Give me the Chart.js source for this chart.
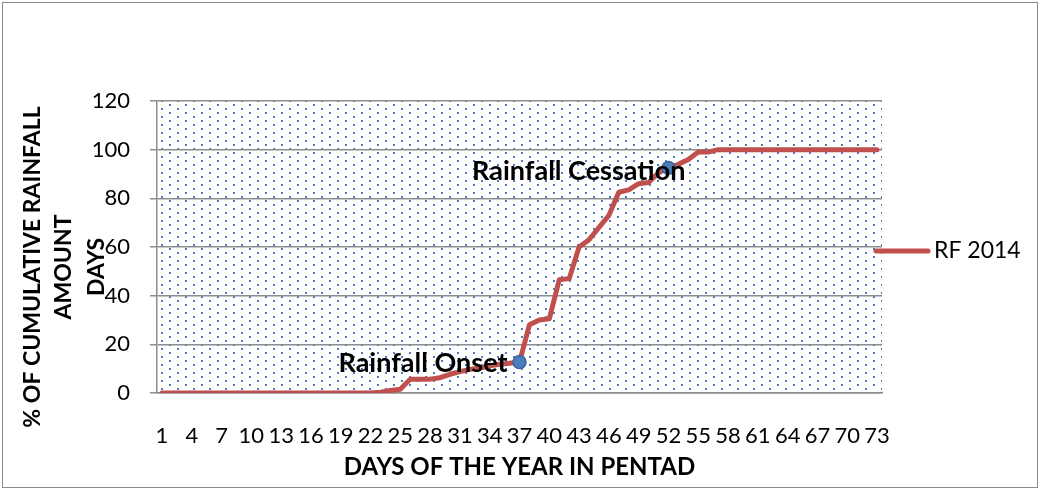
<!DOCTYPE html>
<html>
<head>
<meta charset="utf-8">
<title>RF 2014 cumulative rainfall</title>
<script src="https://cdn.jsdelivr.net/npm/chart.js@4.4.1/dist/chart.umd.min.js"></script>
<style>
  html, body { margin: 0; padding: 0; background: #fff; }
  #wrap { width: 1040px; height: 490px; }
</style>
</head>
<body>
<div id="wrap"><canvas id="rfChart" width="1040" height="490"></canvas></div>
<script>
// Pentads of the year (categories)
const pentads = [
  '1','2','3','4','5','6','7','8','9','10','11','12','13','14','15','16','17','18','19','20',
  '21','22','23','24','25','26','27','28','29','30','31','32','33','34','35','36','37','38','39','40',
  '41','42','43','44','45','46','47','48','49','50','51','52','53','54','55','56','57','58','59','60',
  '61','62','63','64','65','66','67','68','69','70','71','72','73'
];

// % of cumulative rainfall amount, 2014
const rf2014 = [
  0, 0, 0, 0, 0, 0, 0, 0, 0, 0, 0, 0, 0, 0, 0, 0, 0, 0, 0, 0,
  0, 0, 0.3, 1, 1.5, 5.7, 5.7, 5.7, 6.3, 7.7, 8.8, 9.7, 10.3, 11.2, 11.8, 12.2, 12.7, 28, 30, 30.5,
  46.5, 47, 60, 63, 68, 73, 82.5, 83.5, 86, 86.5, 90.5, 92.5, 94, 96, 99, 99, 100, 100, 100, 100,
  100, 100, 100, 100, 100, 100, 100, 100, 100, 100, 100, 100, 100
];

// x labels that are printed (every third pentad)
const tickLabels = ['1','4','7','10','13','16','19','22','25','28','31','34','37','40','43','46','49','52','55','58','61','64','67','70','73'];

// marked events
const eventPentads = ['37', '52'];
const eventLabels = ['Rainfall Onset', 'Rainfall Cessation'];

const seriesName = 'RF 2014';
const yTitleLines = ['% OF CUMULATIVE RAINFALL', 'AMOUNT', 'DAYS'];
const xTitle = 'DAYS OF THE YEAR IN PENTAD';

const fontFamily = "Lato, 'Open Sans', sans-serif";
Chart.defaults.font.family = fontFamily;
Chart.defaults.color = '#000';

const lineColor = '#c0504d';
const gridColor = '#8c8c8c';

// dotted plot-area fill + outer frame
const plotBackground = {
  id: 'plotBackground',
  beforeDraw(chart) {
    const { ctx, chartArea: a } = chart;
    const tile = document.createElement('canvas');
    tile.width = 16;
    tile.height = 8;
    const t = tile.getContext('2d');
    t.fillStyle = '#4a7ebb';
    t.fillRect(9, 0, 2, 2);
    t.fillRect(1, 4, 2, 2);

    ctx.save();
    ctx.fillStyle = '#fff';
    ctx.fillRect(0, 0, chart.width, chart.height);
    ctx.fillStyle = ctx.createPattern(tile, 'repeat');
    ctx.fillRect(a.left, a.top, a.right - a.left, a.bottom - a.top);
    ctx.strokeStyle = '#8a8a8a';
    ctx.lineWidth = 1;
    ctx.strokeRect(2.5, 2.5, chart.width - 5, chart.height - 5);
    ctx.restore();
  }
};

// onset / cessation labels
const eventText = {
  id: 'eventText',
  afterDatasetsDraw(chart) {
    const { ctx } = chart;
    const meta = chart.getDatasetMeta(0);
    const offsets = [[-12, 1], [17, 3]];
    ctx.save();
    ctx.font = 'bold 27px ' + fontFamily;
    ctx.fillStyle = '#000';
    ctx.textAlign = 'right';
    ctx.textBaseline = 'middle';
    eventPentads.forEach((p, i) => {
      const pt = meta.data[pentads.indexOf(p)];
      ctx.fillText(eventLabels[i], pt.x + offsets[i][0], pt.y + offsets[i][1]);
    });
    ctx.restore();
  }
};

// y title (three stacked lines) and legend on the right
const sideText = {
  id: 'sideText',
  afterDraw(chart) {
    const { ctx, chartArea: a } = chart;
    ctx.save();
    ctx.fillStyle = '#000';
    ctx.font = 'bold 23px ' + fontFamily;
    ctx.textAlign = 'center';
    ctx.textBaseline = 'middle';
    const xs = [33, 64, 97];
    yTitleLines.forEach((line, i) => {
      ctx.save();
      ctx.translate(xs[i], 267);
      ctx.rotate(-Math.PI / 2);
      ctx.fillText(line, 0, 0);
      ctx.restore();
    });

    const ly = 251;
    ctx.strokeStyle = lineColor;
    ctx.lineWidth = 5;
    ctx.lineCap = 'round';
    ctx.beginPath();
    ctx.moveTo(a.right - 6, ly);
    ctx.lineTo(a.right + 46, ly);
    ctx.stroke();
    ctx.font = '23px ' + fontFamily;
    ctx.textAlign = 'left';
    ctx.fillText(seriesName, a.right + 52, ly);
    ctx.restore();
  }
};

new Chart(document.getElementById('rfChart').getContext('2d'), {
  type: 'line',
  data: {
    labels: pentads,
    datasets: [{
      label: seriesName,
      data: rf2014,
      borderColor: lineColor,
      borderWidth: 5,
      borderJoinStyle: 'round',
      borderCapStyle: 'round',
      tension: 0,
      fill: false,
      pointRadius: ctx => eventPentads.includes(pentads[ctx.dataIndex]) ? 6.5 : 0,
      pointBackgroundColor: '#4a7ebb',
      pointBorderColor: '#3a65a0',
      pointBorderWidth: 1.5
    }]
  },
  options: {
    responsive: false,
    animation: false,
    events: [],
    layout: { padding: { left: 0, right: 158, top: 101, bottom: 0 } },
    scales: {
      x: {
        type: 'category',
        offset: true,
        grid: { display: false, drawTicks: false },
        border: { display: true, color: gridColor, width: 1.5 },
        ticks: {
          autoSkip: false,
          maxRotation: 0,
          minRotation: 0,
          padding: 30,
          font: { size: 22 },
          callback: function (value, index) {
            const lab = pentads[index];
            return tickLabels.includes(lab) ? lab : '';
          }
        },
        title: {
          display: true,
          text: xTitle,
          font: { size: 24, weight: 'bold' },
          padding: { top: 4, bottom: 8 }
        },
        afterFit: scale => { scale.height = 97; }
      },
      y: {
        min: 0,
        max: 120,
        grid: { color: gridColor, lineWidth: 1.5, drawTicks: true, tickLength: 7, tickColor: gridColor },
        border: { display: true, color: gridColor, width: 1.5 },
        ticks: { stepSize: 20, padding: 20, font: { size: 22 } },
        afterFit: scale => { scale.width = 157; }
      }
    },
    plugins: {
      legend: { display: false },
      tooltip: { enabled: false }
    }
  },
  plugins: [plotBackground, eventText, sideText]
});
</script>
</body>
</html>
